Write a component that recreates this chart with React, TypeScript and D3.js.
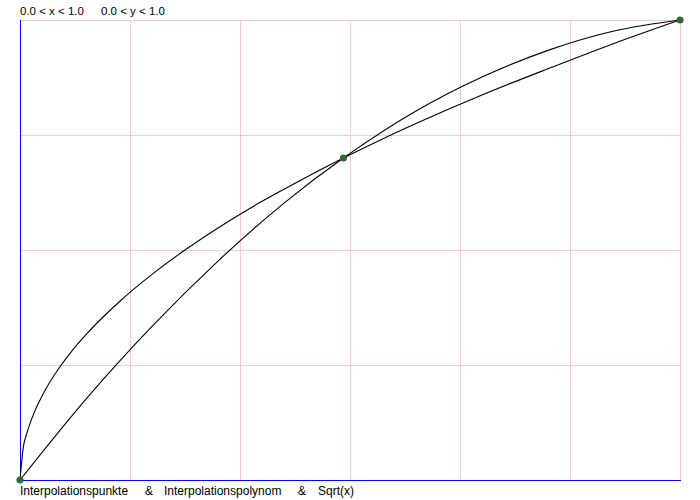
import { useEffect, useRef } from 'react'
import * as d3 from 'd3'

// Values.
const POINT_X = [0, 0.49, 1.0]
const POINT_Y = [0, 0.7, 1.0]

const SQRT_X = [0, 0.005, 0.01, 0.02, 0.04, 0.06, 0.08, 0.1, 0.15, 0.2, 0.25, 0.3, 0.35, 0.4, 0.49, 0.55, 0.6, 0.7, 0.8, 0.9, 1.0]
const SQRT_Y = [0, 0.071, 0.1, 0.141, 0.2, 0.245, 0.283, 0.316, 0.387, 0.447, 0.5, 0.548, 0.592, 0.632, 0.7, 0.742, 0.775, 0.837, 0.894, 0.949, 1.0]

const POLY_X = [0, 0.1, 0.2, 0.3, 0.4, 0.49, 0.5, 0.6, 0.7, 0.8, 0.9, 1.0]
const POLY_Y = [0, 0.176, 0.334, 0.476, 0.602, 0.7, 0.71, 0.802, 0.876, 0.934, 0.976, 1.0]

const X_TICKS = [0, 1 / 6, 2 / 6, 3 / 6, 4 / 6, 5 / 6, 1]
const Y_TICKS = [0, 0.25, 0.5, 0.75, 1]

const RANGE_LABELS = ['0.0 < x < 1.0', '0.0 < y < 1.0']
const LEGEND_LABELS = ['Interpolationspunkte', '&', 'Interpolationspolynom', '&', 'Sqrt(x)']

const W = 700
const H = 500
const FONT = '"Liberation Sans", Arial, sans-serif'

export default function App() {
  const svgRef = useRef<SVGSVGElement>(null)

  useEffect(() => {
    if (!svgRef.current) return
    const margin = { top: 20, right: 20, bottom: 20, left: 20 }
    const innerW = W - margin.left - margin.right
    const innerH = H - margin.top - margin.bottom

    const x = d3.scaleLinear().domain([0, 1]).range([0, innerW])
    const y = d3.scaleLinear().domain([0, 1]).range([innerH, 0])

    d3.select(svgRef.current).selectAll('*').remove()
    const svg = d3.select(svgRef.current).attr('width', W).attr('height', H)
    svg.append('rect').attr('width', W).attr('height', H).attr('fill', '#fff')

    const g = svg.append('g').attr('transform', `translate(${margin.left},${margin.top})`)

    // ---- Grid ----
    g.selectAll('.vg')
      .data(X_TICKS)
      .join('line')
      .attr('x1', (d) => Math.round(x(d)) + 0.5)
      .attr('x2', (d) => Math.round(x(d)) + 0.5)
      .attr('y1', 0)
      .attr('y2', innerH)
      .attr('stroke', '#ffc8c8')
      .attr('stroke-width', 1)
    g.selectAll('.hg')
      .data(Y_TICKS)
      .join('line')
      .attr('x1', 0)
      .attr('x2', innerW)
      .attr('y1', (d) => Math.round(y(d)) + 0.5)
      .attr('y2', (d) => Math.round(y(d)) + 0.5)
      .attr('stroke', '#ffc8c8')
      .attr('stroke-width', 1)

    // ---- Axes (blue) ----
    g.append('line')
      .attr('x1', 0.5).attr('x2', 0.5)
      .attr('y1', 0).attr('y2', innerH)
      .attr('stroke', '#0000ff').attr('stroke-width', 1)
    g.append('line')
      .attr('x1', 0).attr('x2', innerW + 1)
      .attr('y1', innerH + 0.5).attr('y2', innerH + 0.5)
      .attr('stroke', '#0000ff').attr('stroke-width', 1)

    // ---- Curves ----
    const line = d3
      .line<[number, number]>()
      .x((d) => x(d[0]))
      .y((d) => y(d[1]))
      .curve(d3.curveMonotoneX)

    const sqrtData = SQRT_X.map((v, i) => [v, SQRT_Y[i]] as [number, number])
    const polyData = POLY_X.map((v, i) => [v, POLY_Y[i]] as [number, number])

    g.append('path')
      .attr('d', line(polyData))
      .attr('fill', 'none')
      .attr('stroke', '#000')
      .attr('stroke-width', 1.1)
    g.append('path')
      .attr('d', line(sqrtData))
      .attr('fill', 'none')
      .attr('stroke', '#000')
      .attr('stroke-width', 1.1)

    // ---- Interpolation points ----
    g.selectAll('.pt')
      .data(POINT_X.map((v, i) => [v, POINT_Y[i]]))
      .join('circle')
      .attr('cx', (d) => x(d[0]))
      .attr('cy', (d) => y(d[1]))
      .attr('r', 3.6)
      .attr('fill', '#2f6a3c')

    // ---- Texts ----
    const rangeX = [20, 101]
    svg.selectAll('.rl')
      .data(RANGE_LABELS)
      .join('text')
      .attr('x', (_, i) => rangeX[i])
      .attr('y', 15)
      .attr('font-family', FONT)
      .attr('font-size', '11.5px')
      .attr('fill', '#000')
      .text((d) => d)

    const legendX = [20, 145, 164, 298, 318]
    svg.selectAll('.ll')
      .data(LEGEND_LABELS)
      .join('text')
      .attr('x', (_, i) => legendX[i])
      .attr('y', 495)
      .attr('font-family', FONT)
      .attr('font-size', '12px')
      .attr('fill', '#000')
      .text((d) => d)
  }, [])

  return (
    <svg
      ref={svgRef}
      style={{ position: 'absolute', left: 0, top: 0, display: 'block' }}
    />
  )
}
